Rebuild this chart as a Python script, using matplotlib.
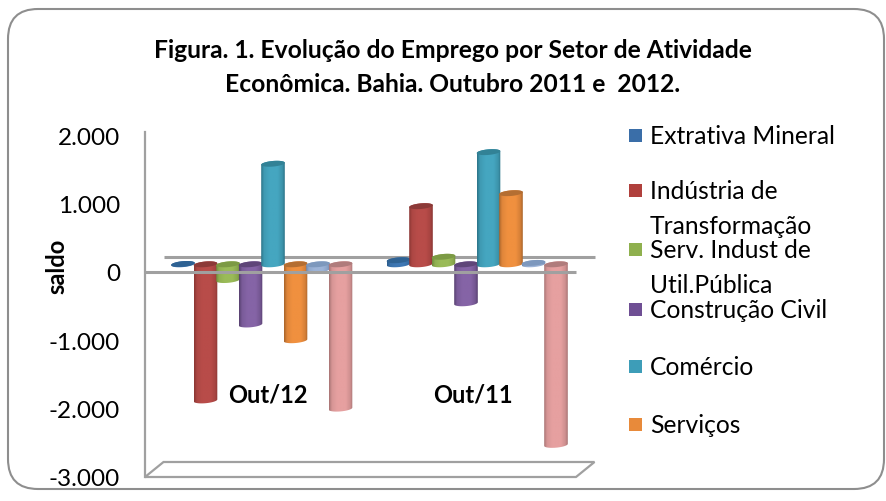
#!/usr/bin/env python3
import numpy as np
import matplotlib
matplotlib.use("Agg")
import matplotlib.pyplot as plt
from matplotlib.colors import LinearSegmentedColormap
from matplotlib.patches import FancyBboxPatch, Polygon, Rectangle
from matplotlib.transforms import Affine2D, IdentityTransform

plt.rcParams["font.family"] = ["Lato", "DejaVu Sans"]

W, H = 886, 502
GRAY = "#a0a0a0"

# valores
periods = ["Out/12", "Out/11"]
extrativa = [5, 60]
industria = [-1990, 850]
serv_util = [-230, 110]
construcao = [-880, -570]
comercio = [1470, 1640]
servicos = [-1110, 1040]
agro = [-80, 20]
admin = [-2110, -2640]

series = [extrativa, industria, serv_util, construcao, comercio, servicos, agro, admin]
# (escuro, claro, tampa)
colors = [
    ("#2a5b8c", "#3f78b4", "#2f6293"),
    ("#8a3633", "#b84c49", "#8c3a38"),
    ("#6f8a3c", "#9abb58", "#7c9a44"),
    ("#57406f", "#8564a6", "#5f4679"),
    ("#2c7488", "#45a6c0", "#328296"),
    ("#a9642b", "#f0903f", "#b46e32"),
    ("#6f8ab0", "#9db4d8", "#7d98bd"),
    ("#a87474", "#e6a0a0", "#b07c7c"),
]

legend_colors = ["#3a6ea8", "#b0403c", "#8fb04e", "#6f4f94", "#3d9db8", "#e88a3a"]
legend_labels = ["Extrativa Mineral", "Indústria de\nTransformação", "Serv. Indust de\nUtil.Pública",
                 "Construção Civil", "Comércio", "Serviços"]
legend_ys = [137, 192, 251, 311, 368, 426]
legend_text_ys = [137, 209, 268, 311, 368, 426]
period_x = [0.07, 1.02]

fig = plt.figure(figsize=(W / 100, H / 100), dpi=100, facecolor="white")

# moldura arredondada
fig.add_artist(FancyBboxPatch((8, H - 490), 876, 480,
                              boxstyle="round,pad=0,rounding_size=30",
                              fc="white", ec="#8e8e8e", lw=1.5,
                              transform=IdentityTransform(), zorder=-1))

# eixos: x=145..576 px, y=478 (-3000) .. 133
ymin, ymax = -3000, 2044
ax = fig.add_axes([145 / W, (H - 478) / H, (576 - 145) / W, (478 - 133) / H])
ax.patch.set_alpha(0)
ax.set_xlim(-0.5, 1.5)
ax.set_ylim(ymin, ymax)
px_x = 2 / 431
px_y = (ymax - ymin) / 345

back = ax.transData + Affine2D().translate(18.5, 15)
mid = ax.transData + Affine2D().translate(9, 7.5)

for s in ["top", "right", "bottom"]:
    ax.spines[s].set_visible(False)
ax.spines["left"].set_color(GRAY)
ax.spines["left"].set_linewidth(1.6)
ax.set_xticks([])
ax.set_yticks([2000, 1000, 0, -1000, -2000, -3000])
ax.set_yticklabels(["2.000", "1.000", "0", "-1.000", "-2.000", "-3.000"], fontsize=17.5, color="black")
ax.tick_params(axis="y", length=0, pad=18)

# piso e linhas do zero
ax.add_patch(Polygon([(-0.5, ymin), (1.5, ymin), (1.5 + 18.5 * px_x, ymin + 15 * px_y),
                      (-0.5 + 18.5 * px_x, ymin + 15 * px_y)], closed=True, fc="white",
                     ec=GRAY, lw=1.6, clip_on=False, zorder=1))
ax.plot([-0.5, 1.5], [0, 0], color=GRAY, lw=2.2, transform=back, clip_on=False, zorder=1,
        solid_capstyle="butt")

bar_w = 22.5 / 215.5
half = 11.8 * px_x
b_y = 2.8 * px_y
tilt = 1.0 * px_y
grad = np.array([0.0, 0.12, 0.35, 0.7, 0.9, 1.0])
grad_vals = np.array([0.0, 0.75, 1.0, 1.0, 0.6, 0.0])


def arc(cx, y, t):
    return np.c_[cx + half * np.cos(t), y + b_y * np.sin(t) + tilt * np.cos(t)]


z = 3
for i, (vals, (dark, light, cap)) in enumerate(zip(series, colors)):
    cmap = LinearSegmentedColormap.from_list("c", [dark, light])
    for g, v in enumerate(vals):
        cx = g + (i - 3.5) * bar_w
        low, high = min(v, 0), max(v, 0)
        t_low = np.linspace(np.pi, 2 * np.pi, 40)
        t_high = np.linspace(0, np.pi, 40)
        outline = np.vstack([arc(cx, low, t_low), arc(cx, high, t_high)])
        body = Polygon(outline, closed=True, fc="none", ec="none", transform=mid)
        ax.add_patch(body)
        shade = np.interp(np.linspace(0, 1, 64), grad, grad_vals)[None, :]
        im = ax.imshow(shade, extent=[cx - half, cx + half, low - 2 * b_y, high + 2 * b_y],
                       aspect="auto", cmap=cmap, vmin=0, vmax=1, interpolation="bilinear",
                       transform=mid, zorder=z)
        im.set_clip_path(body)
        t_full = np.linspace(0, 2 * np.pi, 60)
        ax.add_patch(Polygon(arc(cx, high, t_full), closed=True, fc=cap, ec="none",
                             transform=mid, zorder=z + 0.5, clip_on=False))
        z += 1
ax.set_xlim(-0.5, 1.5)
ax.set_ylim(ymin, ymax)

# linha do zero da frente, sobre as barras
ax.plot([-0.5, 1.5], [0, 0], color=GRAY, lw=2.2, clip_on=False, zorder=60, solid_capstyle="butt")

for px, name in zip(period_x, periods):
    ax.text(px, -1790, name, ha="center", va="center", fontsize=17, fontweight="bold",
            color="black", zorder=70)

# textos em pixels
ov = fig.add_axes([0, 0, 1, 1])
ov.set_xlim(0, W)
ov.set_ylim(H, 0)
ov.axis("off")
ov.patch.set_alpha(0)

ov.text(453, 51, "Figura. 1. Evolução do Emprego por Setor de Atividade", ha="center", va="center",
        fontsize=17.7, fontweight="bold")
ov.text(453, 84, "Econômica. Bahia. Outubro 2011 e  2012.", ha="center", va="center",
        fontsize=17.7, fontweight="bold")
ov.text(57, 266, "saldo", rotation=90, ha="center", va="center", fontsize=17, fontweight="bold")

for label, ys, ty, c in zip(legend_labels, legend_ys, legend_text_ys, legend_colors):
    ov.add_patch(Rectangle((629, ys - 7), 13, 13, fc=c, ec="none"))
    ov.text(650, ty, label, ha="left", va="center", fontsize=17.7, linespacing=1.6)

fig.savefig("out.png", dpi=100, facecolor="white")
